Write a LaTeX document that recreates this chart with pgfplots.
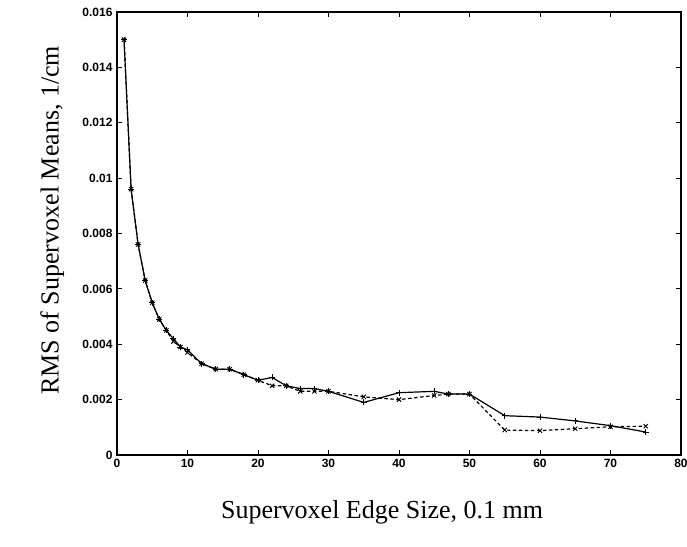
\documentclass[border=0pt]{standalone}
\usepackage{fontspec}
\setmainfont{Liberation Serif}
\setsansfont{Liberation Sans}
\usepackage{pgfplots}
\pgfplotsset{compat=1.18}

\begin{document}
\begin{tikzpicture}
\path[use as bounding box] (-117pt,-91pt) rectangle (570pt,455pt);
\begin{axis}[
    at={(0,0)}, anchor=south west,
    scale only axis,
    width=564pt, height=443pt,
    xmin=0, xmax=80, ymin=0, ymax=0.016,
    xtick={0,10,...,80},
    ytick={0,0.002,0.004,0.006,0.008,0.01,0.012,0.014,0.016},
    yticklabels={0,0.002,0.004,0.006,0.008,0.01,0.012,0.014,0.016},
    scaled y ticks=false,
    tick align=inside,
    major tick length=5pt,
    tick style={black, line width=0.9pt},
    axis line style={line width=1.4pt},
    ticklabel style={font=\fontsize{12}{14}\selectfont\sffamily\bfseries},
    /pgf/number format/assume math mode=true,
    xticklabel style={yshift=-1pt},
    yticklabel style={xshift=-1pt},
    xlabel={Supervoxel Edge Size, 0.1 mm},
    ylabel={RMS of Supervoxel Means, 1/cm},
    label style={font=\fontsize{26}{30}\selectfont},
    xlabel style={at={(axis description cs:0.47,-0.129)}, anchor=center},
    ylabel style={at={(axis description cs:-0.115,0.53)}, anchor=center},
]
\addplot[black, line width=1.2pt, mark=+, mark size=3pt,
    mark options={solid, line width=0.9pt}] coordinates {
    (1,0.0150)(2,0.0096)(3,0.0076)(4,0.0063)(5,0.0055)(6,0.0049)(7,0.0045)
    (8,0.0042)(9,0.0039)(10,0.0038)(12,0.0033)(14,0.0031)(16,0.0031)
    (18,0.0029)(20,0.0027)(22,0.0028)(24,0.0025)(26,0.0024)(28,0.0024)
    (30,0.0023)(35,0.0019)(40,0.00225)(45,0.0023)(47,0.0022)(50,0.0022)
    (55,0.00142)(60,0.00137)(65,0.00123)(70,0.00106)(75,0.00083)
};
\addplot[black, line width=1.2pt, dash pattern=on 3.5pt off 2.5pt,
    mark=x, mark size=3pt, mark options={solid, line width=0.9pt}] coordinates {
    (1,0.0150)(2,0.0096)(3,0.0076)(4,0.0063)(5,0.0055)(6,0.0049)(7,0.0045)
    (8,0.0041)(9,0.0039)(10,0.0037)(12,0.0033)(14,0.0031)(16,0.0031)
    (18,0.0029)(20,0.0027)(22,0.0025)(24,0.0025)(26,0.0023)(28,0.0023)
    (30,0.0023)(35,0.0021)(40,0.0020)(45,0.00215)(47,0.0022)(50,0.0022)
    (55,0.0009)(60,0.00088)(65,0.00095)(70,0.00102)(75,0.00104)
};
\end{axis}
\end{tikzpicture}
\end{document}
